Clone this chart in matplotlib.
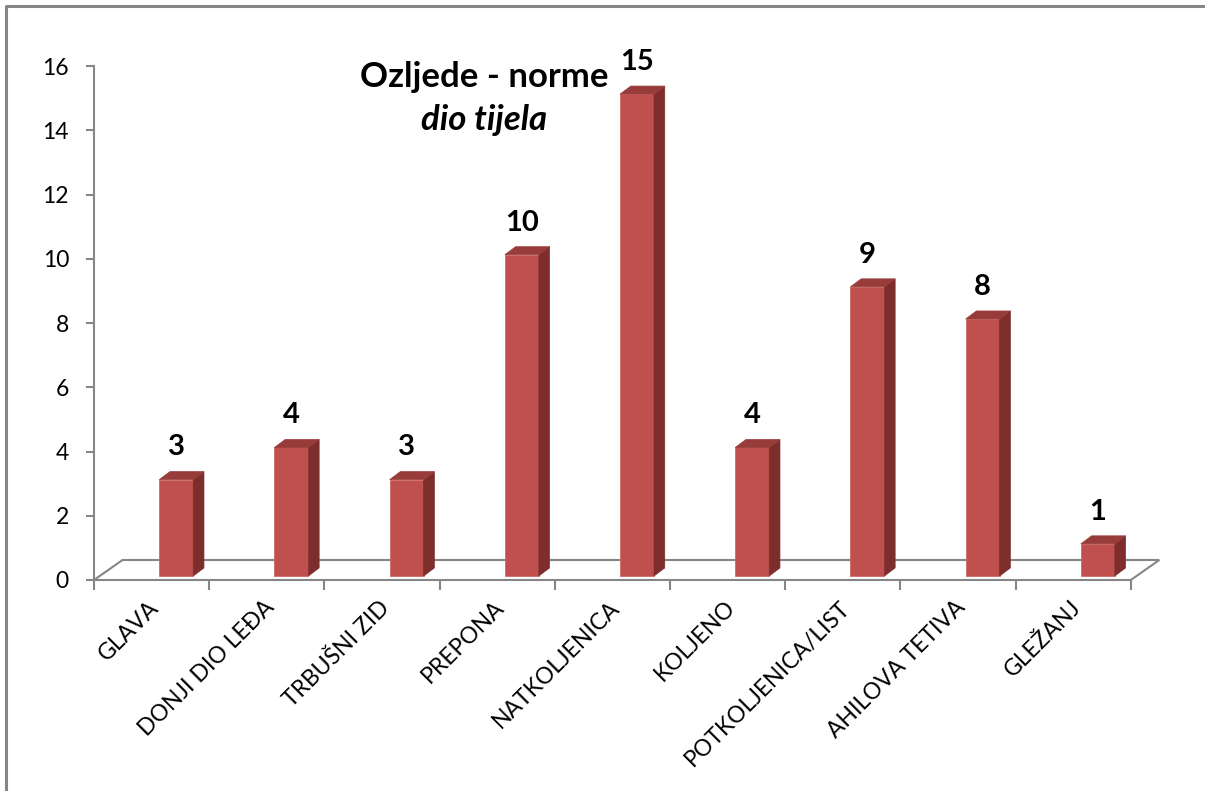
import numpy as np
import matplotlib
matplotlib.use('Agg')
import matplotlib.pyplot as plt
from matplotlib.patches import Polygon
from matplotlib.lines import Line2D

plt.rcParams['font.family'] = ['Lato', 'DejaVu Sans']

# data
categories = ['GLAVA', 'DONJI DIO LEĐA', 'TRBUŠNI ZID', 'PREPONA', 'NATKOLJENICA',
              'KOLJENO', 'POTKOLJENICA/LIST', 'AHILOVA TETIVA', 'GLEŽANJ']
values = [3, 4, 3, 10, 15, 4, 9, 8, 1]
yticks = [0, 2, 4, 6, 8, 10, 12, 14, 16]

W, H = 1205, 791
fig = plt.figure(figsize=(W / 100, H / 100), dpi=100)

# plot area in pixels, 115.2 px per category, 32.125 px per unit
px_cat = 115.2
px_val = (580 - 66) / 16.0
left_px, right_px = 94, 1165
top_px, bot_px = 40, 600
ax = fig.add_axes([left_px / W, 1 - bot_px / H, (right_px - left_px) / W, (bot_px - top_px) / H])
ax.set_xlim(-0.5, -0.5 + (right_px - left_px) / px_cat)
ax.set_ylim(-(bot_px - 580) / px_val, (580 - top_px) / px_val)

grey = '#868686'
front = '#C0504D'
topc = '#983C3A'
sidec = '#7D2E2C'

x = np.arange(len(categories))
n = len(categories)

# floor (3D)
fdx, fdy = 28.5 / px_cat, 20 / px_val
ax.plot([-0.5, -0.5 + fdx, n - 0.5 + fdx, n - 0.5], [0, fdy, fdy, 0],
        color=grey, lw=1.5, zorder=1, clip_on=False, solid_joinstyle='miter')

# bars with depth
off, bw, base = 0.214, 0.295, 0.125
ddx, ddy = 0.093, 0.25
ax.bar(x + off, values, width=bw, bottom=base, color=front,
       edgecolor='#CF6A67', linewidth=0.6, zorder=3)
for xi, v in zip(x, values):
    xl, xr = xi + off - bw / 2, xi + off + bw / 2
    t = base + v
    ax.add_patch(Polygon([(xr, base), (xr + ddx, base + ddy), (xr + ddx, t + ddy), (xr, t)],
                         closed=True, facecolor=sidec, edgecolor=sidec, lw=0.5, zorder=3))
    ax.add_patch(Polygon([(xl, t), (xl + ddx, t + ddy), (xr + ddx, t + ddy), (xr, t)],
                         closed=True, facecolor=topc, edgecolor=topc, lw=0.5, zorder=3))
    ax.annotate(str(v), (xi + off, t + ddy), xytext=(0, 8), textcoords='offset points',
                ha='center', va='bottom', fontsize=21, fontweight='bold', zorder=5)

# axes
for s in ['top', 'right']:
    ax.spines[s].set_visible(False)
ax.spines['left'].set_bounds(0, 16)
ax.spines['left'].set_color(grey)
ax.spines['left'].set_linewidth(1.5)
ax.spines['bottom'].set_position(('data', 0))
ax.spines['bottom'].set_bounds(-0.5, n - 0.5)
ax.spines['bottom'].set_color(grey)
ax.spines['bottom'].set_linewidth(1.5)

ax.set_yticks(yticks)
ax.set_yticklabels([str(t) for t in yticks])
ax.tick_params(axis='y', direction='out', length=6, width=1.5, color=grey,
               labelsize=16.5, pad=12)

ax.set_xticks(np.arange(n + 1) - 0.5)
ax.set_xticklabels([])
ax.tick_params(axis='x', which='major', direction='out', length=7, width=1.5, color=grey)
ax.set_xticks(x - 0.03, minor=True)
ax.set_xticklabels(categories, minor=True, rotation=45, ha='right',
                   rotation_mode='anchor', fontsize=16.5)
ax.tick_params(axis='x', which='minor', length=0, pad=12)

# title
fig.text(484 / W, 1 - 77 / H, 'Ozljede - norme', ha='center', va='center',
         fontsize=25, fontweight='bold')
fig.text(484 / W, 1 - 120 / H, 'dio tijela', ha='center', va='center',
         fontsize=25, fontweight='bold', style='italic')

# chart border
fig.add_artist(Line2D([6 / W, 6 / W, 1], [0, 1 - 6 / H, 1 - 6 / H],
                      color=grey, lw=2.2, transform=fig.transFigure))

fig.savefig('out.png', dpi=100)
